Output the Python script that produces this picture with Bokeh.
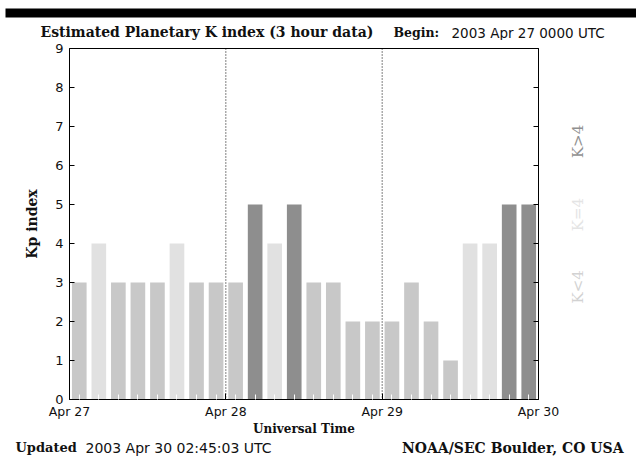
import math
from bokeh.plotting import figure
from bokeh.layouts import column, row
from bokeh.models import Label, FixedTicker, Span, BoxAnnotation, Range1d, ColumnDataSource, LinearAxis
from bokeh.embed import file_html
from bokeh.resources import INLINE

# ---- data ----
kp_values = [3, 4, 3, 3, 3, 4, 3, 3,
             3, 5, 4, 5, 3, 3, 2, 2,
             2, 3, 2, 1, 4, 4, 5, 5]
slot_hours = 3
day_ticks = [0, 24, 48, 72]
day_labels = ["Apr 27", "Apr 28", "Apr 29", "Apr 30"]
day_dividers = [24, 48]
kp_ticks = list(range(10))

COL_LOW = "#c8c8c8"
COL_EQ = "#e1e1e1"
COL_HIGH = "#8e8e8e"

centers = [i * slot_hours + slot_hours / 2 for i in range(len(kp_values))]
colors = [COL_LOW if v < 4 else (COL_EQ if v == 4 else COL_HIGH) for v in kp_values]
src = ColumnDataSource(dict(x=centers, top=kp_values, color=colors))

SANS = "DejaVu Sans"
SERIF = "DejaVu Serif"
TXT = "#111111"

TOTAL_W = 636
TOP_H = 40
B_TOP, FRAME_H, B_BOT = 8, 355, 35
MAIN_H = B_TOP + FRAME_H + B_BOT
BOT_H = 464 - TOP_H - MAIN_H
MAIN_W = 563
LEG_W = TOTAL_W - MAIN_W
FRAME_TOP = TOP_H + B_TOP
FRAME_BOTTOM = FRAME_TOP + FRAME_H


def blank_fig(w, h, yr=None, **kw):
    f = figure(width=w, height=h, x_range=Range1d(0, w), y_range=Range1d(0, yr if yr else h),
               output_backend="svg", toolbar_location=None, title=None,
               x_axis_type=None, y_axis_type=None, **kw)
    f.xgrid.visible = False
    f.ygrid.visible = False
    f.outline_line_color = None
    f.background_fill_color = "white"
    f.border_fill_color = "white"
    return f


def lab(f, text, x, y, font, size, bold=False, align="left", color=TXT, angle=0.0):
    f.add_layout(Label(x=x, y=y, text=text, text_font=font,
                       text_font_size=size, text_font_style="bold" if bold else "normal",
                       text_align=align, text_baseline="middle", text_color=color, angle=angle))


# ---- top strip ----
top = blank_fig(TOTAL_W, TOP_H, min_border=0)
top.add_layout(BoxAnnotation(left=5, right=TOTAL_W, bottom=TOP_H - 17, top=TOP_H - 8,
                             fill_color="black", fill_alpha=1.0, line_color=None))
lab(top, "Estimated Planetary K index (3 hour data)", 40, TOP_H - 31, SERIF, "14px", bold=True)
lab(top, "Begin:", 393, TOP_H - 32, SERIF, "12.5px", bold=True)
lab(top, "2003 Apr 27 0000 UTC", 451, TOP_H - 32, SANS, "13.5px")

# ---- main plot ----
p = figure(width=MAIN_W, height=MAIN_H, x_range=Range1d(0, 72), y_range=Range1d(0, 9),
           output_backend="svg", toolbar_location=None, title=None,
           min_border_left=69, min_border_right=25, min_border_top=B_TOP, min_border_bottom=B_BOT)
p.xgrid.visible = False
p.ygrid.visible = False
p.outline_line_color = "black"
p.outline_line_alpha = 1.0
p.outline_line_width = 1
p.background_fill_color = "white"
p.border_fill_color = "white"

p.vbar(x="x", top="top", width=2.25, bottom=0, color="color", line_color=None, source=src)

xa = p.xaxis[0]
xa.ticker = FixedTicker(ticks=day_ticks, minor_ticks=centers)
xa.major_label_overrides = {t: l for t, l in zip(day_ticks, day_labels)}
xa.major_tick_in = 6
xa.major_tick_out = 0
xa.major_tick_line_color = "black"
xa.minor_tick_in = 5
xa.minor_tick_out = 0
xa.minor_tick_line_color = "white"
xa.axis_line_color = "black"
xa.major_label_text_font = SANS
xa.major_label_text_font_size = "12.5px"
xa.major_label_text_color = TXT
xa.major_label_standoff = 4
xa.axis_label = "Universal Time"
xa.axis_label_text_font = SERIF
xa.axis_label_text_font_style = "bold"
xa.axis_label_text_font_size = "12px"
xa.axis_label_text_color = TXT
xa.axis_label_standoff = 0

ya = p.yaxis[0]
ya.ticker = FixedTicker(ticks=kp_ticks, minor_ticks=[])
ya.major_tick_in = 5
ya.major_tick_out = 0
ya.major_tick_line_color = "black"
ya.axis_line_color = "black"
ya.major_label_text_font = SANS
ya.major_label_text_font_size = "13px"
ya.major_label_text_color = TXT
ya.major_label_standoff = 6
ya.axis_label = "Kp index"
ya.axis_label_text_font = SERIF
ya.axis_label_text_font_style = "bold"
ya.axis_label_text_font_size = "14px"
ya.axis_label_text_color = TXT
ya.axis_label_standoff = 12

ra = LinearAxis(ticker=FixedTicker(ticks=kp_ticks, minor_ticks=[]))
ra.major_tick_in = 5
ra.major_tick_out = 0
ra.major_tick_line_color = "black"
ra.axis_line_color = "black"
ra.major_label_overrides = {t: "" for t in kp_ticks}
ra.major_label_standoff = 0
p.add_layout(ra, "right")

for d in day_dividers:
    p.add_layout(Span(location=d, dimension="height", line_color="black",
                      line_dash="1 2", line_width=1))

# ---- right legend strip (its frame is aligned with the main frame) ----
leg = blank_fig(LEG_W, MAIN_H, yr=FRAME_H, min_border_left=0, min_border_right=0,
                min_border_top=B_TOP, min_border_bottom=B_BOT)
LX = 577 - MAIN_W
lab(leg, "K>4", LX, FRAME_BOTTOM - 142, SERIF, "15px", align="center", color="#909090", angle=math.pi / 2)
lab(leg, "K=4", LX, FRAME_BOTTOM - 216, SERIF, "15px", align="center", color="#e4e4e4", angle=math.pi / 2)
lab(leg, "K<4", LX, FRAME_BOTTOM - 289, SERIF, "15px", align="center", color="#d2d2d2", angle=math.pi / 2)

# ---- bottom strip ----
bot = blank_fig(TOTAL_W, BOT_H, min_border=0)
BOT_TOP = TOP_H + MAIN_H
FY = BOT_H - (447 - BOT_TOP)
lab(bot, "Updated", 15, FY, SERIF, "13px", bold=True)
lab(bot, "2003 Apr 30 02:45:03 UTC", 85, FY, SANS, "14px")
lab(bot, "NOAA/SEC Boulder, CO USA", 623, FY, SERIF, "14px", bold=True, align="right")

layout = column(top, row(p, leg, spacing=0), bot, spacing=0)

open("out.html", "w").write(file_html(layout, INLINE))
